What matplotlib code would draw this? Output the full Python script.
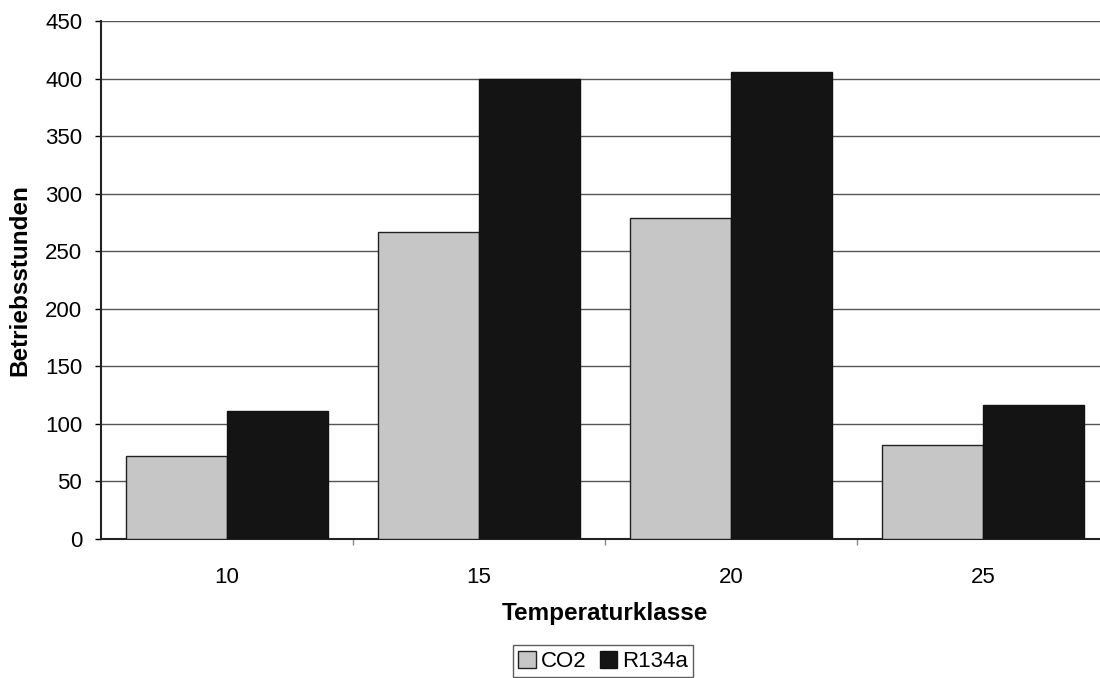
import numpy as np
import matplotlib
matplotlib.use("Agg")
import matplotlib.pyplot as plt

plt.rcParams["font.family"] = ["Liberation Sans", "DejaVu Sans"]

kategorien = ["10", "15", "20", "25"]
co2 = [72, 267, 279, 82]
r134a = [111, 400, 406, 116]

fig = plt.figure(figsize=(11, 6.78), dpi=100)
ax = fig.add_axes([101 / 1100, 139 / 678, 1008 / 1100, 518 / 678])

x = np.arange(len(kategorien))
breite = 0.4
ax.bar(x - breite / 2, co2, breite, color="#c6c6c6", edgecolor="#222222",
       linewidth=1.0, label="CO2", zorder=3)
ax.bar(x + breite / 2, r134a, breite, color="#141414", edgecolor="#111111",
       linewidth=1.0, label="R134a", zorder=3)

ax.set_xlim(-0.5, len(kategorien) - 0.5)
ax.set_ylim(0, 450)
ax.set_yticks(np.arange(0, 451, 50))
ax.yaxis.grid(True, color="#555555", linewidth=1.0, zorder=0)

# Kategorienbeschriftung ohne Striche, Striche nur zwischen den Gruppen
ax.set_xticks(x)
ax.set_xticklabels(kategorien)
ax.tick_params(axis="x", length=0, pad=20, labelsize=16)
ax.set_xticks(np.arange(0.5, len(kategorien) - 0.5, 1), minor=True)
ax.tick_params(axis="x", which="minor", length=4, width=1, color="#888888")
ax.tick_params(axis="y", length=4.5, width=1, labelsize=16, pad=9)

for s in ["top", "right"]:
    ax.spines[s].set_visible(False)
ax.spines["left"].set_linewidth(1.5)
ax.spines["bottom"].set_linewidth(1.5)
ax.spines["left"].set_color("#222222")
ax.spines["bottom"].set_color("#222222")

ax.set_xlabel("Temperaturklasse", fontsize=17.5, fontweight="bold", labelpad=10)
ax.set_ylabel("Betriebsstunden", fontsize=17.5, fontweight="bold", labelpad=10)

leg = fig.legend(loc="upper center", bbox_to_anchor=(603 / 1100, 1 - 645 / 678),
                 ncol=2, frameon=True, fancybox=False, fontsize=16,
                 handlelength=0.8, handleheight=0.8, handletextpad=0.2,
                 columnspacing=0.6, borderpad=0.25, borderaxespad=0)
leg.get_frame().set_edgecolor("#333333")
leg.get_frame().set_linewidth(1.0)

fig.savefig("out.png", dpi=100)
